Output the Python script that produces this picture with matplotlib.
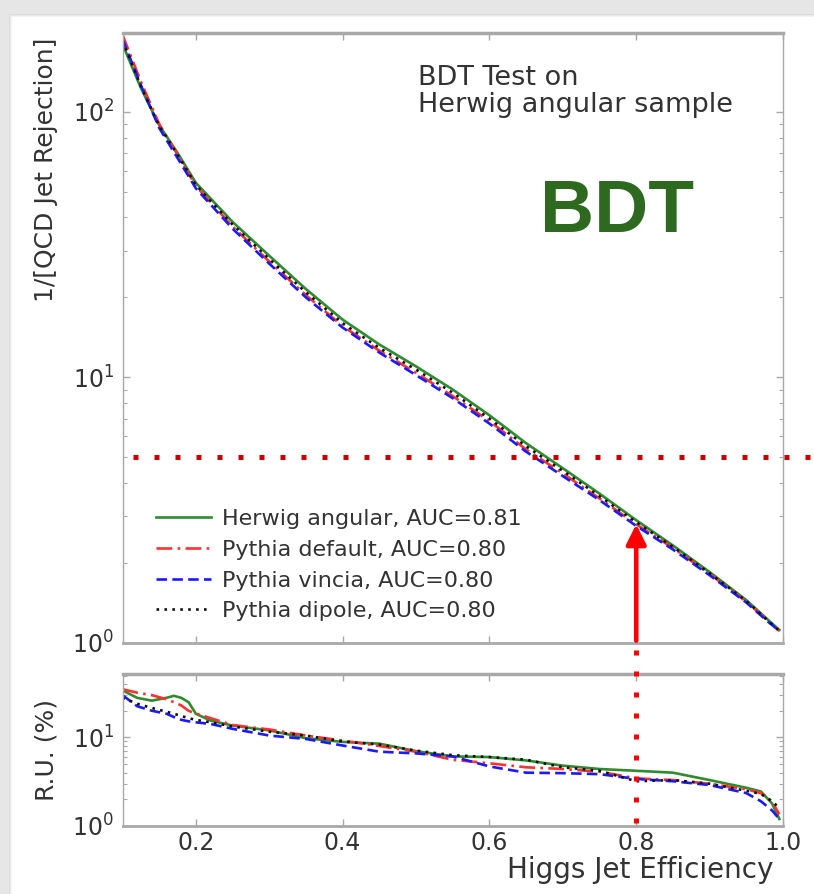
import matplotlib
matplotlib.use("Agg")
import matplotlib.pyplot as plt
from matplotlib.patches import Rectangle
from matplotlib.lines import Line2D
import matplotlib.transforms as mtransforms
import numpy as np

# ---------------- data ----------------
eff_top = [0.10, 0.125, 0.15, 0.175, 0.20, 0.25, 0.30, 0.35, 0.40, 0.45, 0.50,
           0.55, 0.60, 0.65, 0.70, 0.75, 0.80, 0.85, 0.90, 0.95, 0.98, 0.995]
rej_herwig = [180, 123, 89, 70, 54, 38.5, 28.7, 21.5, 16.5, 13.3, 11.0,
              9.0, 7.2, 5.65, 4.55, 3.65, 2.9, 2.33, 1.85, 1.45, 1.22, 1.12]
rej_default = [195, 130, 90, 69, 52.5, 37, 27.3, 20.4, 15.6, 12.6, 10.4,
               8.5, 6.85, 5.35, 4.35, 3.5, 2.8, 2.28, 1.82, 1.43, 1.21, 1.11]
rej_vincia = [188, 126, 87, 67, 51.5, 36.3, 26.8, 20.0, 15.4, 12.4, 10.2,
              8.35, 6.7, 5.25, 4.25, 3.45, 2.76, 2.25, 1.8, 1.42, 1.2, 1.11]
rej_dipole = [185, 125, 88.5, 69, 53, 37.6, 27.9, 20.9, 16.0, 12.9, 10.7,
              8.75, 7.0, 5.5, 4.45, 3.57, 2.85, 2.3, 1.83, 1.44, 1.21, 1.11]

eff_bot = [0.10, 0.12, 0.14, 0.16, 0.17, 0.18, 0.19, 0.20, 0.22, 0.25, 0.30,
           0.35, 0.40, 0.45, 0.50, 0.55, 0.60, 0.65, 0.70, 0.75, 0.80, 0.85,
           0.90, 0.95, 0.97, 0.985, 0.995]
ru_herwig = [34, 28, 26, 28, 29.5, 28, 25, 18.5, 15.5, 13.6, 12.0,
             9.8, 8.9, 8.5, 7.0, 6.1, 6.0, 5.5, 4.8, 4.4, 4.2, 4.0,
             3.3, 2.7, 2.45, 1.8, 1.2]
ru_default = [35, 32, 30, 27, 25, 23, 20, 18.6, 16.5, 13.8, 12.3,
              10.5, 9.2, 8.0, 6.9, 5.6, 5.1, 4.6, 4.4, 4.1, 3.45, 3.3,
              3.0, 2.6, 2.35, 1.9, 1.35]
ru_vincia = [30, 22.5, 20, 18.5, 17.0, 15.8, 15.2, 14.8, 14.2, 12.5, 10.5,
             9.6, 8.1, 6.9, 6.6, 6.1, 4.7, 4.0, 3.95, 3.85, 3.4, 3.2,
             2.9, 2.35, 1.9, 1.5, 1.2]
ru_dipole = [28, 24, 21.5, 19.5, 18.5, 17.5, 16.5, 15.8, 14.8, 13.3, 11.6,
             10.5, 9.0, 8.3, 7.1, 6.3, 6.0, 5.6, 4.6, 4.2, 3.2, 3.3,
             3.0, 2.5, 2.3, 1.9, 1.6]

labels = ["Herwig angular, AUC=0.81", "Pythia default, AUC=0.80",
          "Pythia vincia, AUC=0.80", "Pythia dipole, AUC=0.80"]
xticks = [0.2, 0.4, 0.6, 0.8, 1.0]
xticklabels = ["0.2", "0.4", "0.6", "0.8", "1.0"]
working_eff = 0.8
working_rej = 2.8
ref_rej = 5.0

# ---------------- style ----------------
colors = ["#2e8b2e", "#ff3030", "#1a1aff", "#111111"]
styles = ["-", (0, (6, 2, 1, 2)), (0, (4, 2)), (0, (1, 2))]
spine_c = "#a8a8a8"
txt_c = "#333333"

W, H = 814, 894
fig = plt.figure(figsize=(W / 100, H / 100), dpi=100, facecolor="#e6e6e6")

# card background with soft shadow
for i, c in enumerate(["#dcdcdc", "#e9e9e9", "#f3f3f3"]):
    fig.patches.append(Rectangle(((9 + i) / W, 0), 1, 1 - (14 + i) / H,
                                 transform=fig.transFigure, facecolor=c,
                                 edgecolor="none", zorder=-10 + i))
fig.patches.append(Rectangle((12 / W, 0), 1, 1 - 17 / H, transform=fig.transFigure,
                             facecolor="white", edgecolor="none", zorder=-5))

def px_axes(l, t, r, b):
    return [l / W, 1 - b / H, (r - l) / W, (b - t) / H]

ax1 = fig.add_axes(px_axes(122.5, 33, 783, 643))
ax2 = fig.add_axes(px_axes(122.5, 674, 783, 826))

for ax in (ax1, ax2):
    ax.set_facecolor("white")
    ax.set_yscale("log")
    ax.set_xlim(0.1, 1.0)
    for s in ax.spines.values():
        s.set_color(spine_c)
        s.set_linewidth(1.0)
    ax.spines["top"].set_linewidth(2.5)
    ax.spines["bottom"].set_linewidth(2.0)
    ax.tick_params(which="both", direction="in", top=True, right=True,
                   colors=spine_c, labelcolor=txt_c, labelsize=17)
    ax.tick_params(which="major", length=5, width=1)
    ax.tick_params(which="minor", length=3, width=0.8)
    ax.tick_params(axis="y", pad=6)
    ax.set_xticks(xticks)

# top panel curves
rej = [rej_herwig, rej_default, rej_vincia, rej_dipole]
for y, c, ls, lab in zip(rej, colors, styles, labels):
    ax1.plot(eff_top, y, color=c, linestyle=ls, lw=1.9, label=lab)
ax1.set_ylim(1, 198)
ax1.set_xticklabels([])
ax1.set_ylabel("1/[QCD Jet Rejection]", fontsize=18, color=txt_c)
ax1.yaxis.set_label_coords(-0.097, 0.775)

leg = ax1.legend(loc="lower left", bbox_to_anchor=(0.02, 0.003), frameon=False,
                 fontsize=16, handlelength=2.5, handletextpad=0.5,
                 labelspacing=0.48)
for t in leg.get_texts():
    t.set_color(txt_c)

ax1.text(0.447, 0.948, "BDT Test on\nHerwig angular sample", transform=ax1.transAxes,
         fontsize=19.5, color=txt_c, va="top", ha="left", linespacing=1.05)
ax1.text(0.632, 0.65, "BDT", transform=ax1.transAxes, fontsize=54,
         fontweight="bold", family="Liberation Sans", color="#2d6a1f",
         ha="left", va="bottom")

# bottom panel curves
ru = [ru_herwig, ru_default, ru_vincia, ru_dipole]
for y, c, ls in zip(ru, colors, styles):
    ax2.plot(eff_bot, y, color=c, linestyle=ls, lw=1.9)
ax2.set_ylim(1, 52)
ax2.set_xticklabels(xticklabels)
ax2.set_ylabel("R.U. (%)", fontsize=18, color=txt_c)
ax2.yaxis.set_label_coords(-0.097, 0.5)
ax2.set_xlabel("Higgs Jet Efficiency", fontsize=20, color=txt_c, loc="right")
ax2.xaxis.set_label_coords(0.985, -0.2)

# annotations: reference rejection line, working point arrow and dotted guide
ax1.plot([0.114, 1.045], [ref_rej, ref_rej], color="#c80000", lw=3.6,
         linestyle=(0, (1, 3.2)), dash_capstyle="butt", clip_on=False, zorder=5)
ax1.annotate("", xy=(working_eff, working_rej), xytext=(working_eff, 1.02),
             arrowprops=dict(arrowstyle="-|>", color="#ff0000", lw=3.3,
                             mutation_scale=30, shrinkA=0, shrinkB=0), zorder=6)
trans = mtransforms.blended_transform_factory(ax2.transData, fig.transFigure)
fig.lines.append(Line2D([working_eff, working_eff], [1 - 650 / H, 1 - 828 / H],
                        transform=trans, color="#ff0000", lw=3.6,
                        linestyle=(0, (1, 3.2)), dash_capstyle="butt", zorder=6))

fig.savefig("out.png", dpi=100, facecolor=fig.get_facecolor())
